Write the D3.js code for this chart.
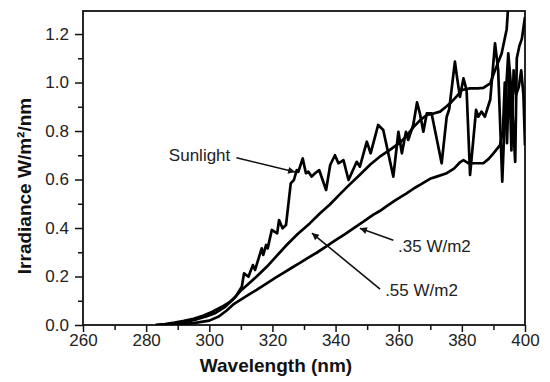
<!DOCTYPE html>
<html>
<head>
<meta charset="utf-8">
<script src="https://cdn.jsdelivr.net/npm/d3@7"></script>
<style>
    body { margin: 0; background: #fff; }
    svg { display: block; font-family: 'Liberation Sans', Arial, Helvetica, sans-serif; }
</style>
</head>
<body>
<div id="chart"></div>
<script>
// Data (wavelength nm, irradiance W/m2/nm)
const sunWl = [283, 286, 289, 292, 295, 298, 301, 304, 306.5, 308.5, 310.3, 311.0, 312.4, 313.8, 314.5, 316.6, 317.1, 318.0, 318.5, 319.8, 321.5, 322.1, 323.2, 324.3, 325.8, 326.8, 327.7, 328.2, 329.6, 330.6, 331.4, 332.4, 333.5, 334.8, 337.0, 338.3, 339.8, 340.9, 342.5, 344.1, 346.7, 347.7, 349.9, 351.1, 353.5, 355.1, 358.3, 359.9, 361.0, 362.3, 363.0, 364.6, 365.8, 366.7, 367.8, 368.9, 370.4, 373.6, 375.2, 376.0, 377.8, 378.6, 379.4, 380.5, 381.5, 382.6, 384.5, 385.2, 386.2, 387.3, 389.0, 390.5, 391.5, 392.8, 393.7, 394.7, 395.6, 396.9, 397.4, 398.2, 399.0, 400];
const sunVal = [0, 0.004, 0.01, 0.017, 0.026, 0.038, 0.055, 0.075, 0.095, 0.12, 0.158, 0.213, 0.199, 0.247, 0.227, 0.316, 0.289, 0.33, 0.316, 0.392, 0.378, 0.433, 0.399, 0.412, 0.584, 0.598, 0.639, 0.632, 0.687, 0.626, 0.632, 0.612, 0.626, 0.639, 0.557, 0.66, 0.70, 0.667, 0.68, 0.598, 0.673, 0.653, 0.756, 0.708, 0.825, 0.804, 0.612, 0.797, 0.708, 0.797, 0.763, 0.825, 0.918, 0.873, 0.797, 0.873, 0.873, 0.667, 0.859, 0.89, 1.086, 1.01, 0.941, 1.017, 0.969, 0.619, 0.887, 0.859, 0.88, 0.859, 0.93, 1.162, 1.052, 0.591, 0.9, 1.12, 0.98, 0.673, 1.1, 1.15, 1.18, 1.27];

const w55Wl = [283, 287, 291, 295, 299, 302, 305, 307.5, 309.7, 312, 315, 318.2, 321, 324.5, 328, 331.9, 335, 338.2, 341.4, 344.5, 347.7, 351, 354, 357.2, 360.4, 362.5, 364.6, 366.8, 368.9, 371, 373.1, 375, 376.8, 378.5, 380, 382.6, 385, 386.8, 389, 390.5, 392.6, 394.2, 394.6, 395.5, 400];
const w55Val = [0, 0.004, 0.01, 0.02, 0.035, 0.05, 0.075, 0.105, 0.138, 0.165, 0.2, 0.24, 0.28, 0.33, 0.375, 0.42, 0.46, 0.497, 0.54, 0.58, 0.62, 0.662, 0.694, 0.722, 0.752, 0.78, 0.815, 0.845, 0.866, 0.872, 0.88, 0.9, 0.921, 0.945, 0.969, 0.976, 0.976, 0.978, 0.997, 1.05, 1.12, 1.22, 1.3, 1.45, 1.6];

const w35Wl = [285, 290, 295, 300, 303, 305.5, 307.6, 310, 312.5, 315, 318.2, 321, 323.5, 326, 328.7, 331, 334, 337.2, 340, 343, 346, 348.8, 352, 354, 356.2, 359, 362.5, 365, 367, 369.9, 372, 375.2, 377.5, 379.5, 380.5, 382, 383.6, 386.8, 388.5, 390, 392.1, 393.0, 393.6, 394.3, 395.0, 395.7, 396.4, 397.2, 398.0, 398.8, 399.5, 400];
const w35Val = [0, 0.003, 0.008, 0.018, 0.035, 0.06, 0.085, 0.105, 0.125, 0.145, 0.172, 0.195, 0.215, 0.235, 0.256, 0.275, 0.298, 0.325, 0.35, 0.375, 0.402, 0.426, 0.455, 0.47, 0.49, 0.515, 0.543, 0.565, 0.58, 0.603, 0.612, 0.626, 0.645, 0.672, 0.68, 0.668, 0.667, 0.667, 0.685, 0.708, 0.742, 0.80, 1.0, 0.75, 1.05, 0.72, 1.05, 0.95, 0.98, 1.05, 0.95, 0.74];

const xTicks = [260, 280, 300, 320, 340, 360, 380, 400];
const xMinorTicks = [270, 290, 310, 330, 350, 370, 390];
const yTicks = [0, 0.2, 0.4, 0.6, 0.8, 1.0, 1.2];
const yMinorTicks = [0.1, 0.3, 0.5, 0.7, 0.9, 1.1];

// annotations: label position and arrow tail/head, in data units
const labels = ['Sunlight', '.35 W/m2', '.55 W/m2'];
const labelAt = [[287.2, 0.676], [359.8, 0.302], [355.7, 0.12]];
const arrowFrom = [[308.6, 0.69], [358.3, 0.35], [354.1, 0.148]];
const arrowTo = [[327.2, 0.631], [347.7, 0.399], [332.5, 0.379]];

// Layout
const width = 550, height = 382;
const margin = { top: 11, right: 25, bottom: 57, left: 83 };
const ink = '#111';

const svg = d3.select('#chart').append('svg')
    .attr('width', width)
    .attr('height', height);

const x = d3.scaleLinear()
    .domain([260, 400])
    .range([margin.left, width - margin.right]);

const y = d3.scaleLinear()
    .domain([0, 1.295])
    .range([height - margin.bottom, margin.top]);

svg.append('clipPath')
    .attr('id', 'plot-clip')
    .append('rect')
    .attr('x', margin.left)
    .attr('y', margin.top)
    .attr('width', width - margin.left - margin.right)
    .attr('height', height - margin.top - margin.bottom);

// x axis
const xAxis = svg.append('g')
    .attr('transform', 'translate(0,' + (height - margin.bottom) + ')')
    .call(d3.axisBottom(x).tickValues(xTicks).tickSize(7).tickPadding(2).tickSizeOuter(0));

svg.append('g')
    .attr('transform', 'translate(0,' + (height - margin.bottom) + ')')
    .call(d3.axisBottom(x).tickValues(xMinorTicks).tickSize(5).tickFormat('').tickSizeOuter(0))
    .call(g => g.select('.domain').remove());

// y axis
const yAxis = svg.append('g')
    .attr('transform', 'translate(' + margin.left + ',0)')
    .call(d3.axisLeft(y).tickValues(yTicks).tickFormat(d3.format('.1f')).tickSize(8).tickPadding(6).tickSizeOuter(0));

svg.append('g')
    .attr('transform', 'translate(' + margin.left + ',0)')
    .call(d3.axisLeft(y).tickValues(yMinorTicks).tickSize(5).tickFormat('').tickSizeOuter(0))
    .call(g => g.select('.domain').remove());

svg.selectAll('.tick line')
    .attr('stroke', ink)
    .attr('stroke-width', 1.5);

[xAxis, yAxis].forEach(a => {
    a.selectAll('text')
        .style('font-size', '17px')
        .style('font-family', "'Liberation Sans', Arial, sans-serif")
        .attr('fill', '#222');
    a.select('.domain').remove();
});

// frame
svg.append('rect')
    .attr('x', margin.left)
    .attr('y', margin.top)
    .attr('width', width - margin.left - margin.right)
    .attr('height', height - margin.top - margin.bottom)
    .attr('fill', 'none')
    .attr('stroke', ink)
    .attr('stroke-width', 1.8);

// curves
const line = d3.line()
    .x(d => x(d[0]))
    .y(d => y(d[1]));

const series = [
    d3.zip(w35Wl, w35Val),
    d3.zip(w55Wl, w55Val),
    d3.zip(sunWl, sunVal)
];

svg.append('g')
    .attr('clip-path', 'url(#plot-clip)')
    .selectAll('path')
    .data(series)
    .join('path')
    .attr('fill', 'none')
    .attr('stroke', '#000')
    .attr('stroke-width', 2.7)
    .attr('stroke-linejoin', 'round')
    .attr('d', line);

// annotations
svg.append('defs').append('marker')
    .attr('id', 'arrow')
    .attr('viewBox', '0 0 10 10')
    .attr('refX', 10)
    .attr('refY', 5)
    .attr('markerWidth', 11)
    .attr('markerHeight', 7)
    .attr('markerUnits', 'userSpaceOnUse')
    .attr('orient', 'auto')
    .append('path')
    .attr('d', 'M0,0L10,5L0,10Z')
    .attr('fill', ink);

svg.append('g')
    .selectAll('line')
    .data(labels)
    .join('line')
    .attr('x1', (d, i) => x(arrowFrom[i][0]))
    .attr('y1', (d, i) => y(arrowFrom[i][1]))
    .attr('x2', (d, i) => x(arrowTo[i][0]))
    .attr('y2', (d, i) => y(arrowTo[i][1]))
    .attr('stroke', ink)
    .attr('stroke-width', 1.6)
    .attr('marker-end', 'url(#arrow)');

svg.append('g')
    .selectAll('text')
    .data(labels)
    .join('text')
    .attr('x', (d, i) => x(labelAt[i][0]))
    .attr('y', (d, i) => y(labelAt[i][1]))
    .style('font-size', '17px')
    .attr('fill', '#222')
    .text(d => d);

// axis titles
svg.append('text')
    .attr('x', 276)
    .attr('y', 372)
    .attr('text-anchor', 'middle')
    .style('font-size', '19px')
    .style('font-weight', 'bold')
    .attr('fill', ink)
    .text('Wavelength (nm)');

svg.append('text')
    .attr('transform', 'translate(31,186) rotate(-90)')
    .attr('text-anchor', 'middle')
    .style('font-size', '19px')
    .style('font-weight', 'bold')
    .attr('fill', ink)
    .text('Irradiance W/m²/nm');
</script>
</body>
</html>
